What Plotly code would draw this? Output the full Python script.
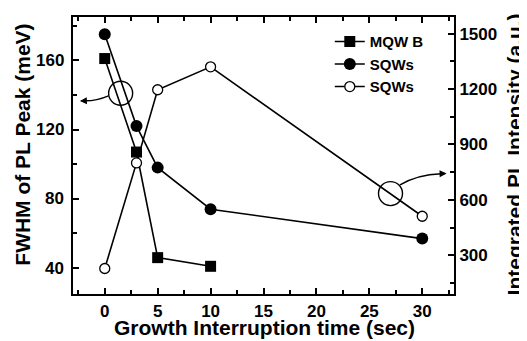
import plotly.graph_objects as go

time_mqw = [0, 3, 5, 10]
fwhm_mqw = [161, 107, 46, 41]
time_sqw = [0, 3, 5, 10, 30]
fwhm_sqw = [175, 122, 98, 74, 57]
intensity_sqw = [228, 800, 1196, 1320, 511]
fwhm_ticks = [40, 80, 120, 160]
time_ticks = [0, 5, 10, 15, 20, 25, 30]
intensity_ticks = [300, 600, 900, 1200, 1500]

FONT = "Liberation Sans, Arial, sans-serif"
TICK_FONT = dict(family=FONT, size=17, color="black", weight="bold")
fig = go.Figure()
line = dict(color="black", width=1.6)
fig.add_trace(go.Scatter(x=time_mqw, y=fwhm_mqw, name="MQW B", mode="lines+markers",
                         line=line, marker=dict(symbol="square", size=11, color="black")))
fig.add_trace(go.Scatter(x=time_sqw, y=fwhm_sqw, name="SQWs", mode="lines+markers",
                         line=line, marker=dict(symbol="circle", size=12, color="black")))
fig.add_trace(go.Scatter(x=time_sqw, y=intensity_sqw, name="SQWs", mode="lines+markers", yaxis="y2",
                         line=line, marker=dict(symbol="circle", size=10, color="white",
                                                line=dict(color="black", width=1.3))))

base = dict(showline=True, linecolor="black", linewidth=2, ticks="inside", ticklen=6,
            tickwidth=1.8, tickcolor="black", showgrid=False, zeroline=False, tickfont=TICK_FONT)
TITLE_FONT = dict(family=FONT, size=21, weight="bold", color="black")

def minor(dt):
    return dict(ticks="inside", ticklen=4, tickwidth=1.8, tickcolor="black", dtick=dt, tick0=0)

# page body adds an 8px offset, so the figure is 8px smaller and margins shifted
fig.update_layout(
    width=519, height=333, margin=dict(l=65, r=73, t=7, b=47),
    paper_bgcolor="white", plot_bgcolor="white",
    font=dict(family=FONT, color="black"),
    xaxis=dict(range=[-3, 33], tickvals=time_ticks, mirror="ticks", minor=minor(2.5),
               ticklabelstandoff=1, **base),
    yaxis=dict(range=[25, 185], tickvals=fwhm_ticks, minor=minor(20), showticklabels=False, **base),
    yaxis2=dict(range=[90, 1590], tickvals=intensity_ticks, overlaying="y", side="right",
                minor=minor(150), ticklabelstandoff=0, **base),
    legend=dict(x=0.674, y=0.97, xanchor="left", yanchor="top", bgcolor="rgba(0,0,0,0)",
                font=dict(family=FONT, size=15, weight="bold", color="black"),
                tracegroupgap=0, itemwidth=30),
    showlegend=True,
)

# left tick labels placed on the y axis scale
for v in fwhm_ticks:
    fig.add_annotation(text=str(v), xref="paper", yref="y", x=0, y=v, xshift=-7,
                       xanchor="right", yanchor="middle", showarrow=False, font=TICK_FONT)

# axis titles
fig.add_annotation(text="Growth Interruption time (sec)", xref="paper", yref="paper",
                   x=0.503, y=0, yshift=-33, xanchor="center", yanchor="middle",
                   showarrow=False, font=TITLE_FONT)
fig.add_annotation(text="FWHM of PL Peak (meV)", xref="paper", yref="paper", textangle=-90,
                   x=0, y=0.539, xshift=-50, xanchor="center", yanchor="middle",
                   showarrow=False, font=TITLE_FONT)
fig.add_annotation(text="Integrated PL Intensity (a.u.)", xref="paper", yref="paper", textangle=-90,
                   x=1, y=0.504, xshift=60, xanchor="center", yanchor="middle",
                   showarrow=False, font=TITLE_FONT)

# highlight circles and curved arrows
for cx, cy in [(1.5, 141), (27, 83)]:
    fig.add_shape(type="circle", xref="x", yref="y", xsizemode="pixel", ysizemode="pixel",
                  xanchor=cx, yanchor=cy, x0=-12, x1=12, y0=-12, y1=12,
                  line=dict(color="black", width=1.4))

fig.add_shape(type="path", xref="x", yref="y", path="M 0.35 139.5 Q -0.8 136.5 -1.9 136.6",
              line=dict(color="black", width=1.4))
fig.add_annotation(x=-2.35, y=136.5, ax=-1.8, ay=136.6, xref="x", yref="y", axref="x", ayref="y",
                   text="", showarrow=True, arrowhead=2, arrowsize=1, arrowwidth=1.4, arrowcolor="black")
fig.add_shape(type="path", xref="x", yref="y", path="M 27.9 88 Q 29.5 94 31.8 94.5",
              line=dict(color="black", width=1.4))
fig.add_annotation(x=32.3, y=94.6, ax=31.7, ay=94.5, xref="x", yref="y", axref="x", ayref="y",
                   text="", showarrow=True, arrowhead=2, arrowsize=1, arrowwidth=1.4, arrowcolor="black")

fig.write_html("out.html")
